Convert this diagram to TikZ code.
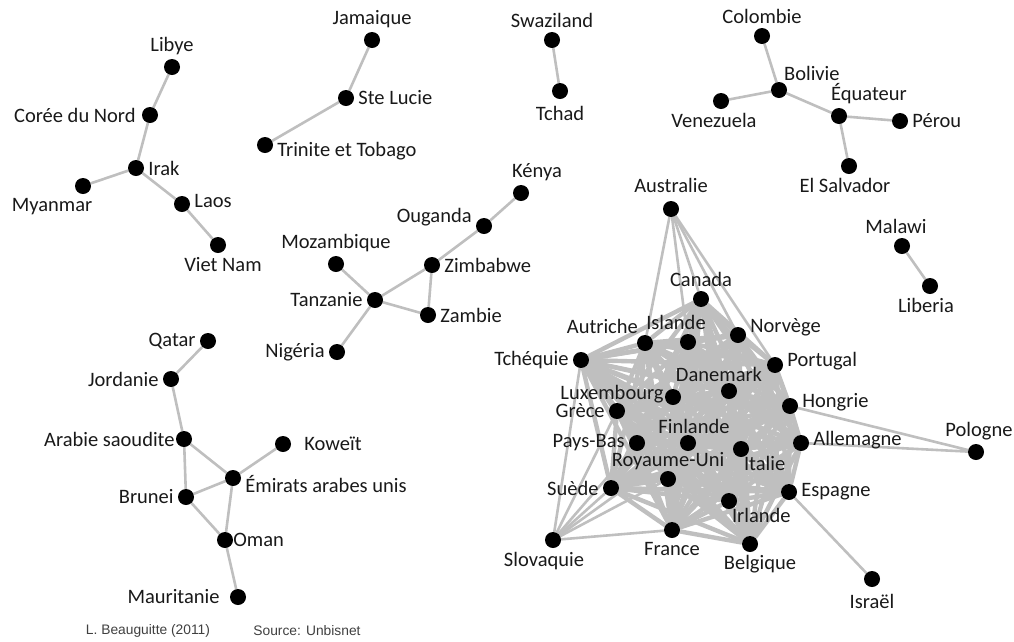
\documentclass[tikz,border=0pt]{standalone}
\usepackage{fontspec}
\setmainfont{Carlito}
\newfontfamily\footfont{Liberation Sans}
\usetikzlibrary{backgrounds}

\begin{document}
\begin{tikzpicture}[x=1pt, y=-1pt, label distance=3pt,
  every label/.style={inner sep=1pt, text=black!90, font=\fontsize{20.5}{23}\selectfont}]
\tikzstyle{country} = [circle, fill=black, minimum size=16pt, inner sep=0pt]
\tikzstyle{link}    = [draw=black!25, line width=2.6pt]
\tikzstyle{corelink} = [draw=black!25, line width=4.4pt]
\tikzstyle{credit}  = [inner sep=0pt, text=black!75, font=\footfont\fontsize{13.8}{16}\selectfont]

\useasboundingbox (0,0) rectangle (1014,641);

% Asie
\node (libye)    [country, label=above:Libye]                          at (172,67)  {};
\node (coree)    [country, label={[label distance=5pt]left:Corée du Nord}] at (150,115) {};
\node (irak)     [country, label=right:Irak]                           at (136,168) {};
\node (myanmar)  [country, label={[xshift=-31pt]below:Myanmar}]        at (83,186)  {};
\node (laos)     [country, label={[yshift=3pt]right:Laos}]             at (182,204) {};
\node (vietnam)  [country, label={[xshift=5pt]below:Viet Nam}]         at (218,245) {};

% Caraibes
\node (jamaique) [country, label=above:Jamaique]                       at (372,40)  {};
\node (stelucie) [country, label=right:Ste Lucie]                      at (346,98)  {};
\node (trinite)  [country, label={[yshift=-6pt]right:Trinite et Tobago}] at (265,145) {};

\node (swazi)    [country, label=above:Swaziland]                      at (552,40)  {};
\node (tchad)    [country, label={[label distance=6pt]below:Tchad}]    at (560,91)  {};

% Amerique latine
\node (colombie) [country, label=above:Colombie]                       at (762,36)  {};
\node (bolivie)  [country, label={[xshift=-4pt]above right:Bolivie}]   at (779,90)  {};
\node (venez)    [country, label={[xshift=-7pt]below:Venezuela}]       at (721,101) {};
\node (equateur) [country, label={[xshift=30pt]above:Équateur}]        at (839,116) {};
\node (perou)    [country, label=right:Pérou]                          at (900,121) {};
\node (salvador) [country, label={[xshift=-4pt]below:El Salvador}]     at (849,166) {};

% Afrique
\node (kenya)    [country, label={[xshift=16pt]above:Kénya}]           at (521,193) {};
\node (ouganda)  [country, label={[yshift=9pt]left:Ouganda}]           at (484,226) {};
\node (zimbabwe) [country, label=right:Zimbabwe]                       at (432,265) {};
\node (mozamb)   [country, label=above:Mozambique]                     at (336,264) {};
\node (tanzanie) [country, label=left:Tanzanie]                        at (375,300) {};
\node (zambie)   [country, label=right:Zambie]                         at (428,315) {};
\node (nigeria)  [country, label=left:Nigéria]                         at (337,352) {};
\node (malawi)   [country, label={[xshift=-6pt]above:Malawi}]          at (902,246) {};
\node (liberia)  [country, label={[xshift=-4pt]below:Liberia}]         at (930,286) {};

% Golfe
\node (qatar)    [country, label=left:Qatar]                           at (208,341) {};
\node (jordanie) [country, label=left:Jordanie]                        at (171,379) {};
\node (arabie)   [country, label={[label distance=0pt]left:Arabie saoudite}] at (184,439) {};
\node (koweit)   [country, label={[label distance=12pt]right:Koweït}]  at (283,444) {};
\node (emirats)  [country, label={[yshift=-6pt]right:Émirats arabes unis}] at (233,478) {};
\node (brunei)   [country, label=left:Brunei]                          at (186,497) {};
\node (oman)     [country, label={[label distance=-1pt]right:Oman}]    at (225,540) {};
\node (mauri)    [country, label={[label distance=9pt]left:Mauritanie}] at (238,597) {};

% Europe et OCDE
\node (australie) [country, label={[label distance=7pt]above:Australie}] at (671,209) {};
\node (canada)    [country, label=above:Canada]                        at (701,299) {};
\node (autriche)  [country, label={[xshift=2pt]above left:Autriche}]   at (645,343) {};
\node (islande)   [country, label={[xshift=-12pt]above:Islande}]       at (688,342) {};
\node (norvege)   [country, label={[yshift=8pt]right:Norvège}]         at (738,335) {};
\node (tchequie)  [country, label=left:Tchéquie]                       at (581,360) {};
\node (portugal)  [country, label={[yshift=4pt]right:Portugal}]        at (775,365) {};
\node (danemark)  [country, label={[xshift=-10pt, label distance=0pt]above:Danemark}] at (729,391) {};
\node (luxemb)    [country, label={[yshift=3pt, label distance=0pt]left:Luxembourg}] at (673,397) {};
\node (grece)     [country, label={[label distance=3pt]left:Grèce}]    at (617,411) {};
\node (hongrie)   [country, label={[yshift=4pt]right:Hongrie}]         at (790,406) {};
\node (finlande)  [country, label={[xshift=6pt, label distance=0pt]above:Finlande}] at (688,443) {};
\node (paysbas)   [country, label={[label distance=3pt]left:Pays-Bas}] at (637,443) {};
\node (italie)    [country, label={[xshift=-4pt, label distance=0pt]below right:Italie}] at (741,449) {};
\node (allemagne) [country, label={[yshift=3pt]right:Allemagne}]       at (801,443) {};
\node (pologne)   [country, label={[xshift=3pt]above:Pologne}]         at (976,452) {};
\node (royaume)   [country, label={[label distance=0pt]above:Royaume-Uni}] at (668,479) {};
\node (suede)     [country, label={[label distance=3pt]left:Suède}]    at (611,488) {};
\node (irlande)   [country, label={[xshift=-4pt, label distance=0pt]below right:Irlande}] at (729,501) {};
\node (espagne)   [country, label=right:Espagne]                       at (789,492) {};
\node (slovaquie) [country, label={[xshift=-9pt]below:Slovaquie}]      at (553,540) {};
\node (france)    [country, label={[label distance=3pt]below:France}]  at (672,530) {};
\node (belgique)  [country, label={[xshift=10pt, label distance=2pt]below:Belgique}] at (750,544) {};
\node (israel)    [country, label={[label distance=6pt]below:Israël}]  at (872,579) {};

\node (auteur) [credit] at (148,631) {L. Beauguitte (2011)};
\node (source) [credit] at (307,631) {Source: Unbisnet};

\begin{scope}[on background layer]
\draw [link] (libye) -- (coree) -- (irak) -- (myanmar);
\draw [link] (irak) -- (laos) -- (vietnam);
\draw [link] (jamaique) -- (stelucie) -- (trinite);
\draw [link] (swazi) -- (tchad);
\draw [link] (colombie) -- (bolivie) -- (venez);
\draw [link] (bolivie) -- (equateur) -- (perou);
\draw [link] (equateur) -- (salvador);
\draw [link] (kenya) -- (ouganda) -- (zimbabwe) -- (tanzanie) -- (zambie) -- (zimbabwe);
\draw [link] (mozamb) -- (tanzanie) -- (nigeria);
\draw [link] (malawi) -- (liberia);
\draw [link] (qatar) -- (jordanie) -- (arabie) -- (brunei) -- (oman) -- (mauri);
\draw [link] (arabie) -- (emirats) -- (koweit);
\draw [link] (brunei) -- (emirats) -- (oman);

% noyau presque complet
\def\corelist{canada,autriche,islande,norvege,tchequie,portugal,danemark,luxemb,grece,hongrie,
  finlande,paysbas,italie,allemagne,royaume,suede,irlande,espagne,france,belgique}
\foreach \a [count=\i] in \corelist {
  \foreach \b [count=\j] in \corelist {
    \ifnum\j>\i \draw [corelink] (\a) -- (\b); \fi
  }
}
\foreach \b in {autriche,islande,canada,norvege,portugal}
  \draw [link] (australie) -- (\b);
\foreach \b in {tchequie,suede,paysbas,royaume,france,grece,finlande}
  \draw [link] (slovaquie) -- (\b);
\draw [link] (hongrie) -- (pologne) -- (allemagne);
\draw [link] (espagne) -- (israel);
\end{scope}
\end{tikzpicture}
\end{document}
